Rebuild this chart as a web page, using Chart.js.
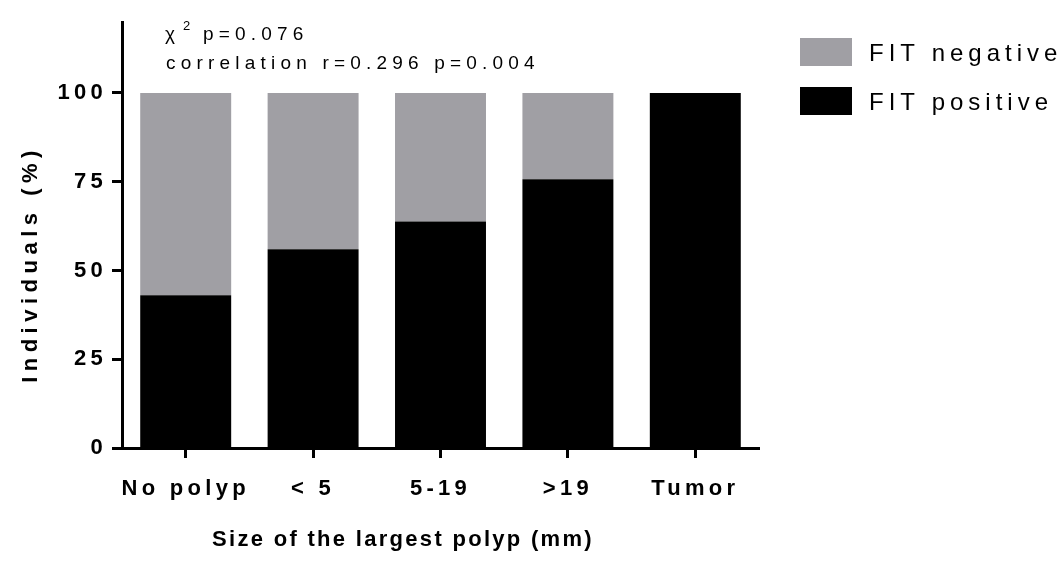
<!DOCTYPE html>
<html>
<head>
<meta charset="utf-8">
<script src="https://cdn.jsdelivr.net/npm/chart.js@4/dist/chart.umd.min.js"></script>
<style>
  html, body { margin: 0; padding: 0; background: #fff; }
  #wrap { width: 1061px; height: 571px; position: relative; }
</style>
</head>
<body>
<div id="wrap"><canvas id="c" width="1061" height="571"></canvas></div>
<script>
// Share of individuals by size of the largest polyp, split by FIT result
const categories = ['No polyp', '< 5', '5-19', '>19', 'Tumor'];
const fitPositive = [43, 56, 63.8, 75.7, 100];
const fitNegative = [57, 44, 36.2, 24.3, 0];
const yTicks = [0, 25, 50, 75, 100];
const seriesNames = ['FIT positive', 'FIT negative'];
const statLines = ['p=0.076', 'correlation r=0.296 p=0.004'];
const xTitle = 'Size of the largest polyp (mm)';
const yTitle = 'Individuals (%)';

const FONT = '"Liberation Sans", Arial, sans-serif';
const GRAY = '#a09fa4';

// free text: stats note, legend and axis titles
const textPlugin = {
  id: 'texts',
  afterDraw(chart) {
    const ctx = chart.ctx;
    ctx.save();
    ctx.fillStyle = '#000';
    ctx.textBaseline = 'alphabetic';
    ctx.textAlign = 'left';

    // stats note
    ctx.letterSpacing = '5.2px';
    ctx.font = '19px ' + FONT;
    ctx.fillText('\u03C7', 165, 40);
    ctx.font = '13px ' + FONT;
    ctx.fillText('2', 183, 30);
    ctx.font = '19px ' + FONT;
    ctx.fillText(statLines[0], 203, 40);
    ctx.fillText(statLines[1], 166, 69);

    // legend, listed top to bottom as the stack reads
    const ds = chart.data.datasets;
    const order = [1, 0];
    ctx.font = '24px ' + FONT;
    ctx.letterSpacing = '5px';
    order.forEach((di, k) => {
      const y = 38 + k * 49;
      ctx.fillStyle = ds[di].backgroundColor;
      ctx.fillRect(800, y, 52, 28);
      ctx.fillStyle = '#000';
      ctx.fillText(ds[di].label, 869, y + 23);
    });

    // axis titles
    ctx.font = 'bold 22px ' + FONT;
    ctx.letterSpacing = '2.3px';
    ctx.textAlign = 'center';
    ctx.fillText(xTitle, 403, 546);
    ctx.letterSpacing = '5.5px';
    ctx.translate(37, 264);
    ctx.rotate(-Math.PI / 2);
    ctx.fillText(yTitle, 0, 0);
    ctx.restore();
  }
};

// wider letter spacing for the axis tick labels
const spacingPlugin = {
  id: 'spacing',
  beforeUpdate(chart) { chart.ctx.letterSpacing = '4.3px'; },
  beforeDraw(chart) { chart.ctx.letterSpacing = '4.3px'; }
};

new Chart(document.getElementById('c'), {
  type: 'bar',
  data: {
    labels: categories,
    datasets: [
      { label: seriesNames[0], data: fitPositive, backgroundColor: '#000000',
        barPercentage: 0.714, categoryPercentage: 1 },
      { label: seriesNames[1], data: fitNegative, backgroundColor: GRAY,
        barPercentage: 0.714, categoryPercentage: 1 }
    ]
  },
  options: {
    responsive: false,
    animation: false,
    devicePixelRatio: 1,
    layout: { padding: { top: 22, right: 302, left: 0, bottom: 0 } },
    plugins: { legend: { display: false }, tooltip: { enabled: false } },
    scales: {
      x: {
        stacked: true,
        offset: true,
        border: { display: true, color: '#000', width: 3 },
        grid: { display: true, offset: false, drawOnChartArea: false, drawTicks: true,
                tickLength: 10, tickWidth: 3, tickColor: '#000', color: '#000' },
        ticks: { color: '#000', padding: 18, maxRotation: 0, minRotation: 0, autoSkip: false,
                 font: { family: FONT, size: 22, weight: 'bold' } },
        afterFit(s) { s.height = 123; }
      },
      y: {
        stacked: true,
        min: 0,
        max: 120,
        border: { display: true, color: '#000', width: 3 },
        grid: { display: true, drawOnChartArea: false, drawTicks: true,
                tickLength: 10, tickWidth: 3, tickColor: '#000', color: '#000' },
        afterBuildTicks(s) { s.ticks = yTicks.map(v => ({ value: v })); },
        ticks: { color: '#000', padding: 5, autoSkip: false,
                 font: { family: FONT, size: 22, weight: 'bold' } },
        afterFit(s) { s.width = 122; }
      }
    }
  },
  plugins: [spacingPlugin, textPlugin]
});
</script>
</body>
</html>
